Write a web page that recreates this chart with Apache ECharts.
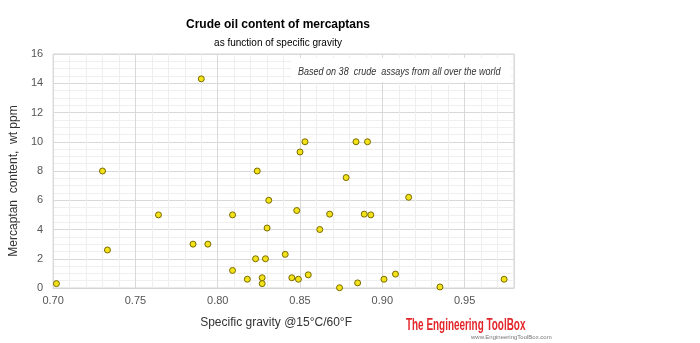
<!DOCTYPE html>
<html>
<head>
<meta charset="utf-8">
<script src="https://cdn.jsdelivr.net/npm/echarts@6/dist/echarts.min.js"></script>
<style>
  html, body { margin: 0; padding: 0; background: #fff; }
  #chart { width: 700px; height: 343px; }
</style>
</head>
<body>
<div id="chart"></div>
<script>
  // specific gravity @15°C/60°F
  var gravity = [
    0.702, 0.730, 0.733, 0.764, 0.785, 0.794, 0.790, 0.809, 0.809, 0.818,
    0.823, 0.829, 0.824, 0.831, 0.830, 0.827, 0.827, 0.841, 0.845, 0.849,
    0.855, 0.848, 0.850, 0.853, 0.862, 0.868, 0.874, 0.878, 0.884, 0.891,
    0.885, 0.889, 0.893, 0.901, 0.908, 0.916, 0.935, 0.974
  ]
  // mercaptan content, wt ppm
  var mercaptan = [
    0.3, 8.0, 2.6, 5.0, 3.0, 3.0, 14.3, 5.0, 1.2, 0.6,
    2.0, 2.0, 8.0, 6.0, 4.1, 0.7, 0.3, 2.3, 0.7, 0.6,
    0.9, 5.3, 9.3, 10.0, 4.0, 5.05, 0.02, 7.55, 10.0, 10.0,
    0.35, 5.05, 5.0, 0.6, 0.95, 6.2, 0.07, 0.6
  ]
  var xTicks = [0.70, 0.75, 0.80, 0.85, 0.90, 0.95]
  var yTicks = [0, 2, 4, 6, 8, 10, 12, 14, 16]

  var points = []
  for (var i = 0; i < gravity.length; i++) {
    points.push([gravity[i], mercaptan[i]])
  }

  var font = '"Liberation Sans", Arial, sans-serif'
  var myChart = echarts.init(document.getElementById('chart'), null, { renderer: 'canvas' })
  var option = {
    backgroundColor: '#fff',
    animation: false,
    title: [{
      text: 'Crude oil content of mercaptans',
      left: 273,
      top: 14,
      textAlign: 'center',
      textStyle: { fontSize: 12, fontWeight: 'bold', color: '#000', fontFamily: font }
    }, {
      text: 'as function of specific gravity',
      left: 273,
      top: 33,
      textAlign: 'center',
      textStyle: { fontSize: 10, fontWeight: 'normal', color: '#000', fontFamily: font }
    }],
    grid: {
      left: 49, right: 186, top: 54, bottom: 55,
      show: true, borderColor: '#d4d4d4', borderWidth: 1
    },
    xAxis: {
      type: 'value',
      min: xTicks[0],
      max: 0.98,
      interval: 0.05,
      name: 'Specific gravity @15°C/60°F',
      nameLocation: 'middle',
      nameGap: 29,
      nameTextStyle: { fontSize: 12, color: '#333', fontFamily: font, padding: [0, 15, 0, 0] },
      axisLine: { show: true, lineStyle: { color: '#d4d4d4' } },
      axisTick: { show: false },
      axisLabel: {
        fontSize: 11, color: '#555', fontFamily: font, margin: 7,
        showMaxLabel: false,
        formatter: function (v) { return v.toFixed(2) }
      },
      splitLine: { show: true, lineStyle: { color: '#d9d9d9' } },
      minorTick: { show: false, splitNumber: 5 },
      minorSplitLine: { show: true, lineStyle: { color: '#efefef' } }
    },
    yAxis: {
      type: 'value',
      min: yTicks[0],
      max: yTicks[yTicks.length - 1],
      interval: 2,
      name: 'Mercaptan  content,  wt ppm',
      nameLocation: 'middle',
      nameGap: 30,
      nameTextStyle: { fontSize: 12, color: '#333', fontFamily: font, padding: [0, 20, 0, 0] },
      axisLine: { show: false },
      axisTick: { show: false },
      axisLabel: { fontSize: 11, color: '#555', fontFamily: font, margin: 10 },
      splitLine: { show: true, lineStyle: { color: '#d9d9d9' } },
      minorTick: { show: false, splitNumber: 4 },
      minorSplitLine: { show: true, lineStyle: { color: '#efefef' } }
    },
    graphic: [{
      type: 'rect',
      left: 291,
      top: 58,
      z: 10,
      shape: { width: 220, height: 24 },
      style: { fill: '#fff' }
    }, {
      type: 'text',
      left: 298,
      top: 66,
      z: 11,
      scaleX: 0.82,
      style: {
        text: 'Based on 38  crude  assays from all over the world',
        font: 'italic 11px ' + font,
        fill: '#333'
      }
    }, {
      type: 'text',
      left: 406,
      top: 318,
      scaleX: 0.62,
      style: {
        text: 'The Engineering ToolBox',
        font: 'bold 16px ' + font,
        fill: '#e3262b'
      }
    }, {
      type: 'text',
      left: 471,
      top: 334,
      style: {
        text: 'www.EngineeringToolBox.com',
        font: '6px ' + font,
        fill: '#777'
      }
    }],
    series: [{
      type: 'scatter',
      data: points,
      symbol: 'circle',
      symbolSize: 6,
      z: 12,
      itemStyle: { color: '#f2e21a', borderColor: '#7a6a00', borderWidth: 1, opacity: 1 }
    }]
  }
  myChart.setOption(option)
</script>
</body>
</html>
